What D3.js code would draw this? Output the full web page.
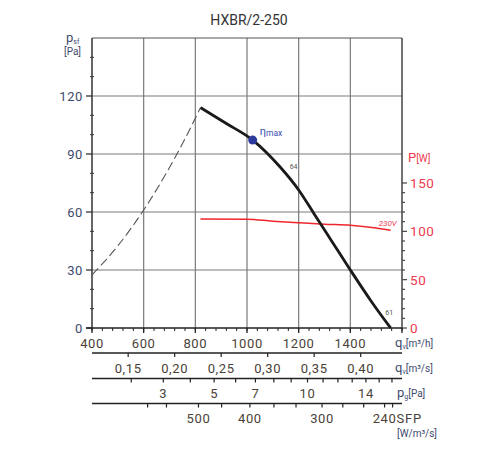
<!DOCTYPE html>
<html><head><meta charset="utf-8">
<script src="https://cdn.jsdelivr.net/npm/d3@7"></script>
<style>body{margin:0;background:#fff}svg{display:block;font-family:Roboto,"Liberation Sans",sans-serif}</style>
</head><body><svg id="c" width="500" height="450"></svg>
<script>
// ---- data ----
const title = "HXBR/2-250";
const qTicks = [400, 600, 800, 1000, 1200, 1400];
const paTicks = [0, 30, 60, 90, 120];
const pwTicks = [0, 50, 100, 150];
const qsTicks = [0.15, 0.20, 0.25, 0.30, 0.35, 0.40];
const qsLabels = ["0,15", "0,20", "0,25", "0,30", "0,35", "0,40"];
const pgTicks = [2, 3, 4, 5, 6, 7, 8, 9, 10, 11, 12, 13, 14, 15, 16];
const pgLabels = [3, 5, 7, 10, 14];
const pgCalib = [676, 3]; // pg = 3 Pa at 676 m3/h (pg ~ q^2)
const sfpTicks = [660, 590, 500, 450, 400, 360, 330, 300, 280, 260, 240, 233];
const sfpLabels = [500, 400, 300, 240];
// fan curve (static pressure, Pa)
const fanQ = [820, 920, 1022, 1130, 1200, 1260, 1330, 1400, 1480, 1556];
const fanPa = [114, 105.8, 97.2, 83, 71.4, 59, 44.5, 30, 14, 0];
// system / unstable region (dashed)
const sysQ = [400, 500, 600, 700, 800, 820];
const sysPa = [27.5, 42.5, 61, 83, 108.5, 114];
// power curve (W)
const powQ = [820, 1000, 1100, 1200, 1300, 1400, 1500, 1556];
const powW = [112.8, 112.6, 110.5, 108.9, 107.4, 106.3, 103.5, 101.2];
const etaMax = [1022, 97.2];
const pointLabels = [["64", 1165, 82], ["61", 1535, 6.5]];

// ---- layout ----
const svg = d3.select("#c");
const L = 92, R = 402, T = 38, B = 328;
const x = d3.scaleLinear().domain([400, 1600]).range([L, R]);
const y = d3.scaleLinear().domain([0, 150]).range([B, T]);
const yP = d3.scaleLinear().domain([0, 300]).range([B, T]);
const navy = "#3d4a6e", red = "#f03a4c", brown = "#4a4238";

// gridlines
const g = svg.append("g");
g.selectAll(".vg").data([600, 800, 1000, 1200, 1400]).join("line")
  .attr("x1", d => x(d)).attr("x2", d => x(d)).attr("y1", T).attr("y2", B)
  .attr("stroke", "#7a7a7a").attr("stroke-width", 1.2);
g.selectAll(".hg").data([30, 60, 90, 120]).join("line")
  .attr("x1", L).attr("x2", R).attr("y1", d => y(d)).attr("y2", d => y(d))
  .attr("stroke", "#7a7a7a").attr("stroke-width", 1.2);
g.append("line").attr("x1", L).attr("x2", R).attr("y1", T).attr("y2", T)
  .attr("stroke", "#555").attr("stroke-width", 1.2);

// left axis
const ax = svg.append("g");
ax.append("line").attr("x1", L).attr("x2", L).attr("y1", T).attr("y2", B + 1)
  .attr("stroke", "#333").attr("stroke-width", 1.5);
ax.selectAll(".lm").data(d3.range(10, 150, 10).filter(v => v % 30)).join("line")
  .attr("x1", L - 2).attr("x2", L + 2).attr("y1", d => y(d)).attr("y2", d => y(d))
  .attr("stroke", "#333").attr("stroke-width", 1);
ax.selectAll(".lM").data(paTicks).join("line")
  .attr("x1", L - 6).attr("x2", L).attr("y1", d => y(d)).attr("y2", d => y(d))
  .attr("stroke", "#333").attr("stroke-width", 1.3);
ax.selectAll(".lt").data(paTicks).join("text")
  .attr("x", L - 9).attr("y", d => y(d) + 4.6).attr("text-anchor", "end")
  .attr("font-size", 13).attr("letter-spacing", 0.6).attr("fill", navy).text(d => d);
const ps = ax.append("text").attr("x", 66).attr("y", 42).attr("fill", navy);
ps.append("tspan").attr("font-size", 13).text("p");
ps.append("tspan").attr("font-size", 7).attr("dy", 2).text("sf");
ax.append("text").attr("x", 64).attr("y", 55).attr("font-size", 10).attr("fill", navy).text("[Pa]");

// right axis
ax.append("line").attr("x1", R).attr("x2", R).attr("y1", T).attr("y2", B + 1)
  .attr("stroke", "#444").attr("stroke-width", 1.5);
ax.selectAll(".rm").data(d3.range(0, 160, 10)).join("line")
  .attr("x1", R).attr("x2", d => R + (d % 50 ? 3 : 5)).attr("y1", d => yP(d)).attr("y2", d => yP(d))
  .attr("stroke", "#444").attr("stroke-width", 1.2);
ax.selectAll(".rt").data(pwTicks).join("text")
  .attr("x", R + 8).attr("y", d => yP(d) + 5).attr("font-size", 13.5).attr("letter-spacing", 0.6)
  .attr("fill", red).text(d => d);
const pw = ax.append("text").attr("x", 408).attr("y", 162).attr("fill", red);
pw.append("tspan").attr("font-size", 13).text("P");
pw.append("tspan").attr("font-size", 10).text("[W]");

// bottom axis
ax.append("line").attr("x1", L - 6).attr("x2", R).attr("y1", B).attr("y2", B)
  .attr("stroke", "#222").attr("stroke-width", 1.5);
ax.selectAll(".bm").data(d3.range(400, 1601, 40)).join("line")
  .attr("x1", d => x(d)).attr("x2", d => x(d)).attr("y1", B).attr("y2", B + 3)
  .attr("stroke", "#222").attr("stroke-width", 1);
ax.selectAll(".bM").data(d3.range(400, 1601, 200)).join("line")
  .attr("x1", d => x(d)).attr("x2", d => x(d)).attr("y1", B).attr("y2", B + 5)
  .attr("stroke", "#222").attr("stroke-width", 1.3);
ax.selectAll(".bt").data(qTicks).join("text")
  .attr("x", d => x(d)).attr("y", 348).attr("text-anchor", "middle")
  .attr("font-size", 13).attr("letter-spacing", 0.6).attr("fill", brown).text(d => d);

function unitLabel(xp, yp, main, sub, rest) {
  const t = svg.append("text").attr("x", xp).attr("y", yp).attr("fill", navy);
  t.append("tspan").attr("font-size", 13).text(main);
  t.append("tspan").attr("font-size", 7).attr("dy", 1.5).text(sub);
  t.append("tspan").attr("font-size", 10).attr("dy", -1.5).text(rest);
}
unitLabel(395, 347, "q", "v", "[m³/h]");
unitLabel(395, 372, "q", "v", "[m³/s]");
unitLabel(397, 397, "p", "g", "[Pa]");

// secondary scales
function scaleLine(yl, ticks, posFn, tickLen) {
  svg.append("line").attr("x1", L).attr("x2", R).attr("y1", yl).attr("y2", yl)
    .attr("stroke", "#222").attr("stroke-width", 1.4);
  svg.selectAll(null).data(ticks).join("line")
    .attr("x1", d => posFn(d)).attr("x2", d => posFn(d)).attr("y1", yl).attr("y2", yl + tickLen)
    .attr("stroke", "#222").attr("stroke-width", 1.2);
}
// m3/s
const qsPos = v => x(v * 3600);
scaleLine(353, qsTicks, qsPos, 4);
svg.selectAll(null).data(qsTicks).join("text")
  .attr("x", d => qsPos(d)).attr("y", 373).attr("text-anchor", "middle")
  .attr("font-size", 13).attr("letter-spacing", 0.6).attr("fill", brown)
  .text((d, i) => qsLabels[i]);
// pg
const pgPos = v => x(pgCalib[0] * Math.sqrt(v / pgCalib[1]));
scaleLine(378.5, pgTicks, pgPos, 4);
svg.selectAll(null).data(pgLabels).join("text")
  .attr("x", d => pgPos(d)).attr("y", 397.5).attr("text-anchor", "middle")
  .attr("font-size", 13).attr("letter-spacing", 0.6).attr("fill", brown).text(d => d);
// SFP = P / qv
const pOfQ = d3.scaleLinear().domain(powQ).range(powW).clamp(true);
function sfpPos(s) {
  let q = 1000;
  for (let i = 0; i < 60; i++) q = 3600 * pOfQ(q) / s;
  return x(q);
}
scaleLine(403.5, sfpTicks, sfpPos, 4);
const sfpT = svg.selectAll(null).data(sfpLabels).join("text")
  .attr("x", d => sfpPos(d)).attr("y", 423).attr("text-anchor", "middle")
  .attr("font-size", 13).attr("letter-spacing", 0.6).attr("fill", brown).text(d => d);
const lastLab = sfpT.nodes()[sfpT.size() - 1];
const lb = lastLab.getBBox();
svg.append("text").attr("x", Math.max(396, lb.x + lb.width)).attr("y", 423).attr("font-size", 13).attr("letter-spacing", 0.8)
  .attr("fill", brown).text("SFP");
svg.append("text").attr("x", 397).attr("y", 437).attr("font-size", 10).attr("fill", navy).text("[W/m³/s]");

// curves
const line = d3.line().curve(d3.curveMonotoneX);
svg.append("path").attr("d", line(sysQ.map((q, i) => [x(q), y(sysPa[i])])))
  .attr("fill", "none").attr("stroke", "#555").attr("stroke-width", 1.1).attr("stroke-dasharray", "9,4");
svg.append("path").attr("d", line(powQ.map((q, i) => [x(q), yP(powW[i])])))
  .attr("fill", "none").attr("stroke", "#f0262e").attr("stroke-width", 1.5);
svg.append("path").attr("d", d3.line().curve(d3.curveMonotoneX)(fanQ.map((q, i) => [x(q), y(fanPa[i])])))
  .attr("fill", "none").attr("stroke", "#1a1a1a").attr("stroke-width", 2.8).attr("stroke-linejoin", "round");
svg.append("circle").attr("cx", x(etaMax[0])).attr("cy", y(etaMax[1])).attr("r", 4.5).attr("fill", "#2b3a9c");
const et = svg.append("text").attr("x", x(etaMax[0]) + 7).attr("y", y(etaMax[1]) - 5).attr("fill", "#3a4fb0");
et.append("tspan").attr("font-size", 11).text("η");
et.append("tspan").attr("font-size", 8.5).attr("dy", 1).text("max");
svg.selectAll(null).data(pointLabels).join("text")
  .attr("x", d => x(d[1])).attr("y", d => y(d[2])).attr("font-size", 7).attr("fill", "#555").text(d => d[0]);
svg.append("text").attr("x", x(1510)).attr("y", yP(106)).attr("font-size", 8).attr("font-style", "italic")
  .attr("fill", red).text("230V");

svg.append("text").attr("x", 249).attr("y", 25).attr("text-anchor", "middle")
  .attr("font-size", 14).attr("fill", "#333").text(title);
</script></body></html>
